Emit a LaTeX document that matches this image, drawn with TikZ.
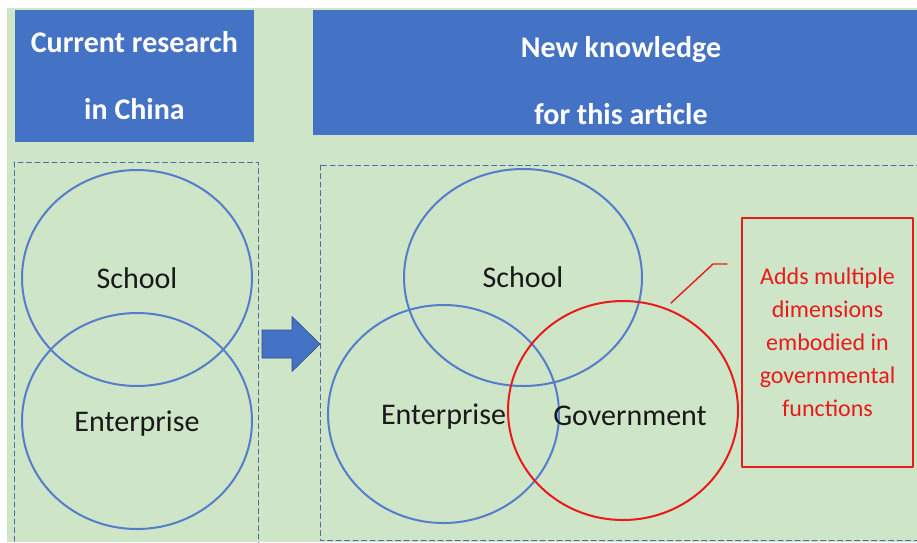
\documentclass[tikz,border=0pt]{standalone}
\usepackage{fontspec}
\setmainfont{Carlito}
\usetikzlibrary{shapes.geometric}
\definecolor{bggreen}{RGB}{207,229,200}
\definecolor{headblue}{RGB}{68,114,196}
\definecolor{ringblue}{RGB}{86,124,204}
\definecolor{dashblue}{RGB}{78,108,168}
\definecolor{govred}{RGB}{232,26,26}
\tikzset{
  head/.style={fill=headblue, inner sep=0pt},
  headtext/.style={text=white, align=center, font=\fontsize{30}{67}\selectfont\bfseries},
  frame/.style={draw=dashblue, line width=1pt, dash pattern=on 5pt off 3.5pt},
  ring/.style={ellipse, draw=ringblue, line width=2pt, inner sep=0pt, text depth=0pt, text=black!90, font=\fontsize{30}{36}\selectfont},
  govring/.style={ring, draw=govred},
  ringlabel/.style={text=black!90, font=\fontsize{30}{36}\selectfont},
  note/.style={draw=govred, line width=1.2pt, text=govred, align=center, inner sep=0pt, font=\fontsize{24}{33}\selectfont},
}

\begin{document}
\begin{tikzpicture}[line cap=round,line join=round,x=1pt,y=-1pt]
\useasboundingbox (0,0) rectangle (917,542);
\fill [bggreen] (7,8) rectangle (917,542);
% headers
\node[head, minimum width=239pt, minimum height=132pt] (curbox) at (134.5,76) {};
\node[headtext] (curtext) at (curbox.center) {Current research\\in China};
\node[head, minimum width=604pt, minimum height=125pt] (newbox) at (615,72.5) {};
\node[headtext] (newtext) at (621,80.5) {New knowledge\\for this article};
% dashed frames
\draw [frame] (14,162) rectangle (258,560);
\draw [frame] (320,165) rectangle (930,540);
% left: current research
\node[ring, minimum width=230pt, minimum height=216pt] (school1) at (137,278) {School};
\node[ring, minimum width=230pt, minimum height=216pt] (enter1) at (137,421) {Enterprise};
% arrow
\fill [headblue, draw=headblue!70!black, line width=0.6pt] (262,330) -- (292,330) -- (292,316.5) -- (320,344) -- (292,371.5) -- (292,358) -- (262,358) -- cycle;
% right: new knowledge
\node[ring, minimum width=238pt, minimum height=217pt] (school2) at (523,277.5) {School};
\node[ring, minimum width=231pt, minimum height=218pt] (enter2) at (443.5,414) {Enterprise};
\node[govring, minimum width=230pt, minimum height=219pt] (gov) at (623,410.5) {};
\node[ringlabel] (govtext) at (630,416) {Government};
% callout
\node[note, minimum width=171pt, minimum height=249pt] (note) at (827.5,342.5) {Adds multiple\\dimensions\\embodied in\\governmental\\functions};
\coordinate (callstart) at (671,303);
\coordinate (bend) at (713,264);
\coordinate (tail) at (727,264);
\draw [govred, line width=1.4pt] (callstart) -- (bend) -- (tail);
\end{tikzpicture}
\end{document}
